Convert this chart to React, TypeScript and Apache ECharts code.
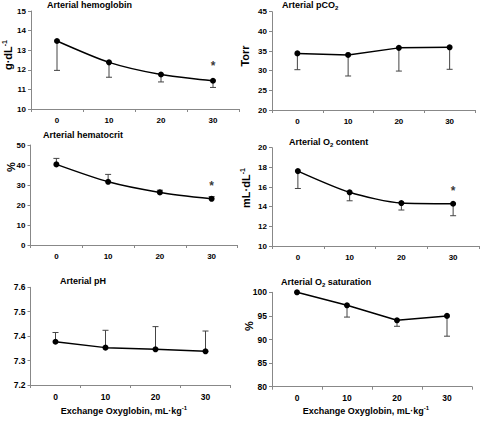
import React, { useEffect, useRef } from "react";
import * as echarts from "echarts";

// ---- data ----
const doses = ["0", "10", "20", "30"];

const hemoglobin = [13.47, 12.38, 11.76, 11.44];
const hemoglobinErr = [11.97, 11.62, 11.38, 11.1];
const hemoglobinStar = 12.2;

const pco2 = [34.4, 34.0, 35.8, 35.95];
const pco2Err = [30.25, 28.65, 29.9, 30.35];

const hematocrit = [40.3, 31.6, 26.3, 23.1];
const hematocritErr = [43.3, 35.3, 27.4, 24.2];
const hematocritStar = 29.6;

const o2content = [17.62, 15.46, 14.37, 14.3];
const o2contentErr = [15.85, 14.6, 13.66, 13.08];
const o2contentStar = 15.6;

const ph = [7.377, 7.353, 7.346, 7.338];
const phErr = [7.415, 7.424, 7.439, 7.421];

const o2sat = [100, 97.25, 94.07, 95.0];
const o2satErr = [null, 94.75, 92.8, 90.7];

const FONT = "'Liberation Sans', Arial, sans-serif";

type Panel = {
  title: string;
  yName: string | null;
  values: number[];
  errs: (number | null)[];
  star: number | null;
  min: number;
  max: number;
  interval: number;
  decimals: number;
  smooth: number | boolean;
  grid: { left: number; top: number; width: number; height: number };
  titlePos: { left: number; top: number };
  yNamePos: [number, number];
  labelSize: number;
};

const panels: Panel[] = [
  {
    title: "Arterial hemoglobin", yName: "{b|g·dL}{s|-1}", values: hemoglobin, errs: hemoglobinErr, star: hemoglobinStar,
    min: 10, max: 15, interval: 1, decimals: 0, smooth: 0.25,
    grid: { left: 31, top: 11, width: 208, height: 98 }, titlePos: { left: 47, top: -1 }, yNamePos: [8, 55], labelSize: 8,
  },
  {
    title: "Arterial pCO{sub|2}", yName: "{b|Torr}", values: pco2, errs: pco2Err, star: null,
    min: 20, max: 45, interval: 5, decimals: 0, smooth: false,
    grid: { left: 272, top: 11.7, width: 203, height: 98.3 }, titlePos: { left: 282, top: -1 }, yNamePos: [245, 56], labelSize: 8,
  },
  {
    title: "Arterial hematocrit", yName: "{b|%}", values: hematocrit, errs: hematocritErr, star: hematocritStar,
    min: 0, max: 50, interval: 10, decimals: 0, smooth: 0.25,
    grid: { left: 30.5, top: 145, width: 207, height: 100 }, titlePos: { left: 43, top: 129 }, yNamePos: [11, 167], labelSize: 8,
  },
  {
    title: "Arterial O{sub|2} content", yName: "{b|mL·dL}{s|-1}", values: o2content, errs: o2contentErr, star: o2contentStar,
    min: 10, max: 20, interval: 2, decimals: 0, smooth: 0.25,
    grid: { left: 272, top: 147.7, width: 207, height: 98.3 }, titlePos: { left: 289, top: 136 }, yNamePos: [246, 188], labelSize: 8,
  },
  {
    title: "Arterial pH", yName: null, values: ph, errs: phErr, star: null,
    min: 7.2, max: 7.6, interval: 0.1, decimals: 1, smooth: false,
    grid: { left: 30.5, top: 287.3, width: 200, height: 97.7 }, titlePos: { left: 60, top: 274.5 }, yNamePos: [0, 0], labelSize: 8.5,
  },
  {
    title: "Arterial O{sub|2} saturation", yName: "{b|%}", values: o2sat, errs: o2satErr, star: null,
    min: 80, max: 100, interval: 5, decimals: 0, smooth: false,
    grid: { left: 272, top: 292.3, width: 200, height: 94.4 }, titlePos: { left: 281, top: 276 }, yNamePos: [249, 326], labelSize: 8.5,
  },
];

const xTitle = "{b|Exchange Oxyglobin, mL·kg}{s|-1}";

function buildOption() {
  const grid: any[] = [];
  const xAxis: any[] = [];
  const yAxis: any[] = [];
  const series: any[] = [];
  const title: any[] = [];
  const graphic: any[] = [];

  const richName = {
    b: { fontSize: 11, fontWeight: "bold", fontFamily: FONT, color: "#000", lineHeight: 14 },
    s: { fontSize: 7, fontWeight: "bold", fontFamily: FONT, color: "#000", verticalAlign: "top", lineHeight: 14 },
  };

  panels.forEach((p, i) => {
    grid.push({ ...p.grid });
    xAxis.push({
      type: "category",
      gridIndex: i,
      data: doses,
      boundaryGap: true,
      axisLine: { lineStyle: { color: "#888", width: 1 } },
      axisTick: { show: true, length: 3, lineStyle: { color: "#888" } },
      axisLabel: { color: "#000", fontSize: p.labelSize, fontWeight: "bold", fontFamily: FONT, margin: 7 },
      splitLine: { show: false },
    });
    yAxis.push({
      type: "value",
      gridIndex: i,
      min: p.min,
      max: p.max,
      interval: p.interval,
      axisLine: { show: true, lineStyle: { color: "#888", width: 1 } },
      axisTick: { show: true, length: 3, lineStyle: { color: "#888" } },
      axisLabel: {
        color: "#000", fontSize: p.labelSize, fontWeight: "bold", fontFamily: FONT, margin: 5,
        formatter: (v: number) => v.toFixed(p.decimals),
      },
      splitLine: { show: false },
    });

    const errData = p.errs
      .map((e, k) => (e === null ? null : [k, p.values[k], e]))
      .filter((d) => d !== null);

    series.push({
      type: "custom",
      xAxisIndex: i,
      yAxisIndex: i,
      data: errData,
      encode: { x: 0, y: [1, 2] },
      z: 1,
      renderItem: (params: any, api: any) => {
        const x = api.value(0);
        const a = api.coord([x, api.value(1)]);
        const b = api.coord([x, api.value(2)]);
        const hw = 3;
        const st = { stroke: "#444", lineWidth: 1 };
        return {
          type: "group",
          children: [
            { type: "line", shape: { x1: a[0], y1: a[1], x2: b[0], y2: b[1] }, style: st },
            { type: "line", shape: { x1: b[0] - hw, y1: b[1], x2: b[0] + hw, y2: b[1] }, style: st },
          ],
        };
      },
    });

    series.push({
      type: "line",
      xAxisIndex: i,
      yAxisIndex: i,
      data: p.values,
      smooth: p.smooth,
      symbol: "circle",
      symbolSize: 6,
      z: 3,
      itemStyle: { color: "#000" },
      lineStyle: { color: "#000", width: 1.5 },
    });

    if (p.star !== null) {
      series.push({
        type: "scatter",
        xAxisIndex: i,
        yAxisIndex: i,
        data: [[3, p.star]],
        symbolSize: 1,
        itemStyle: { color: "rgba(0,0,0,0)" },
        z: 4,
        label: {
          show: true,
          position: "inside",
          formatter: "*",
          fontSize: 12,
          fontWeight: "bold",
          fontFamily: FONT,
          color: "#000",
        },
      });
    }

    title.push({
      text: p.title,
      left: p.titlePos.left,
      top: p.titlePos.top,
      padding: 0,
      textStyle: {
        fontSize: 9,
        fontWeight: "bold",
        fontFamily: FONT,
        color: "#000",
        lineHeight: 12,
        rich: {
          sub: { fontSize: 6, fontWeight: "bold", fontFamily: FONT, color: "#000", verticalAlign: "bottom", lineHeight: 12 },
        },
      },
    });

    if (p.yName) {
      graphic.push({
        type: "text",
        x: p.yNamePos[0],
        y: p.yNamePos[1],
        rotation: Math.PI / 2,
        style: {
          text: p.yName,
          align: "center",
          verticalAlign: "middle",
          rich: richName,
        },
      });
    }
  });

  const xRich = {
    b: { fontSize: 9, fontWeight: "bold", fontFamily: FONT, color: "#000", lineHeight: 12 },
    s: { fontSize: 6, fontWeight: "bold", fontFamily: FONT, color: "#000", verticalAlign: "top", lineHeight: 12 },
  };
  [124, 366].forEach((cx) => {
    graphic.push({
      type: "text",
      x: cx,
      y: 411,
      style: { text: xTitle, align: "center", verticalAlign: "middle", rich: xRich },
    });
  });

  return {
    animation: false,
    backgroundColor: "#fff",
    title,
    grid,
    xAxis,
    yAxis,
    series,
    graphic,
  };
}

export default function App() {
  const ref = useRef<HTMLDivElement>(null);
  useEffect(() => {
    if (!ref.current) return;
    const chart = echarts.init(ref.current, undefined, { renderer: "svg" });
    chart.setOption(buildOption() as any);
    return () => chart.dispose();
  }, []);
  return (
    <div
      ref={ref}
      style={{ position: "absolute", left: 0, top: 0, width: 480, height: 421, background: "#fff" }}
    />
  );
}
